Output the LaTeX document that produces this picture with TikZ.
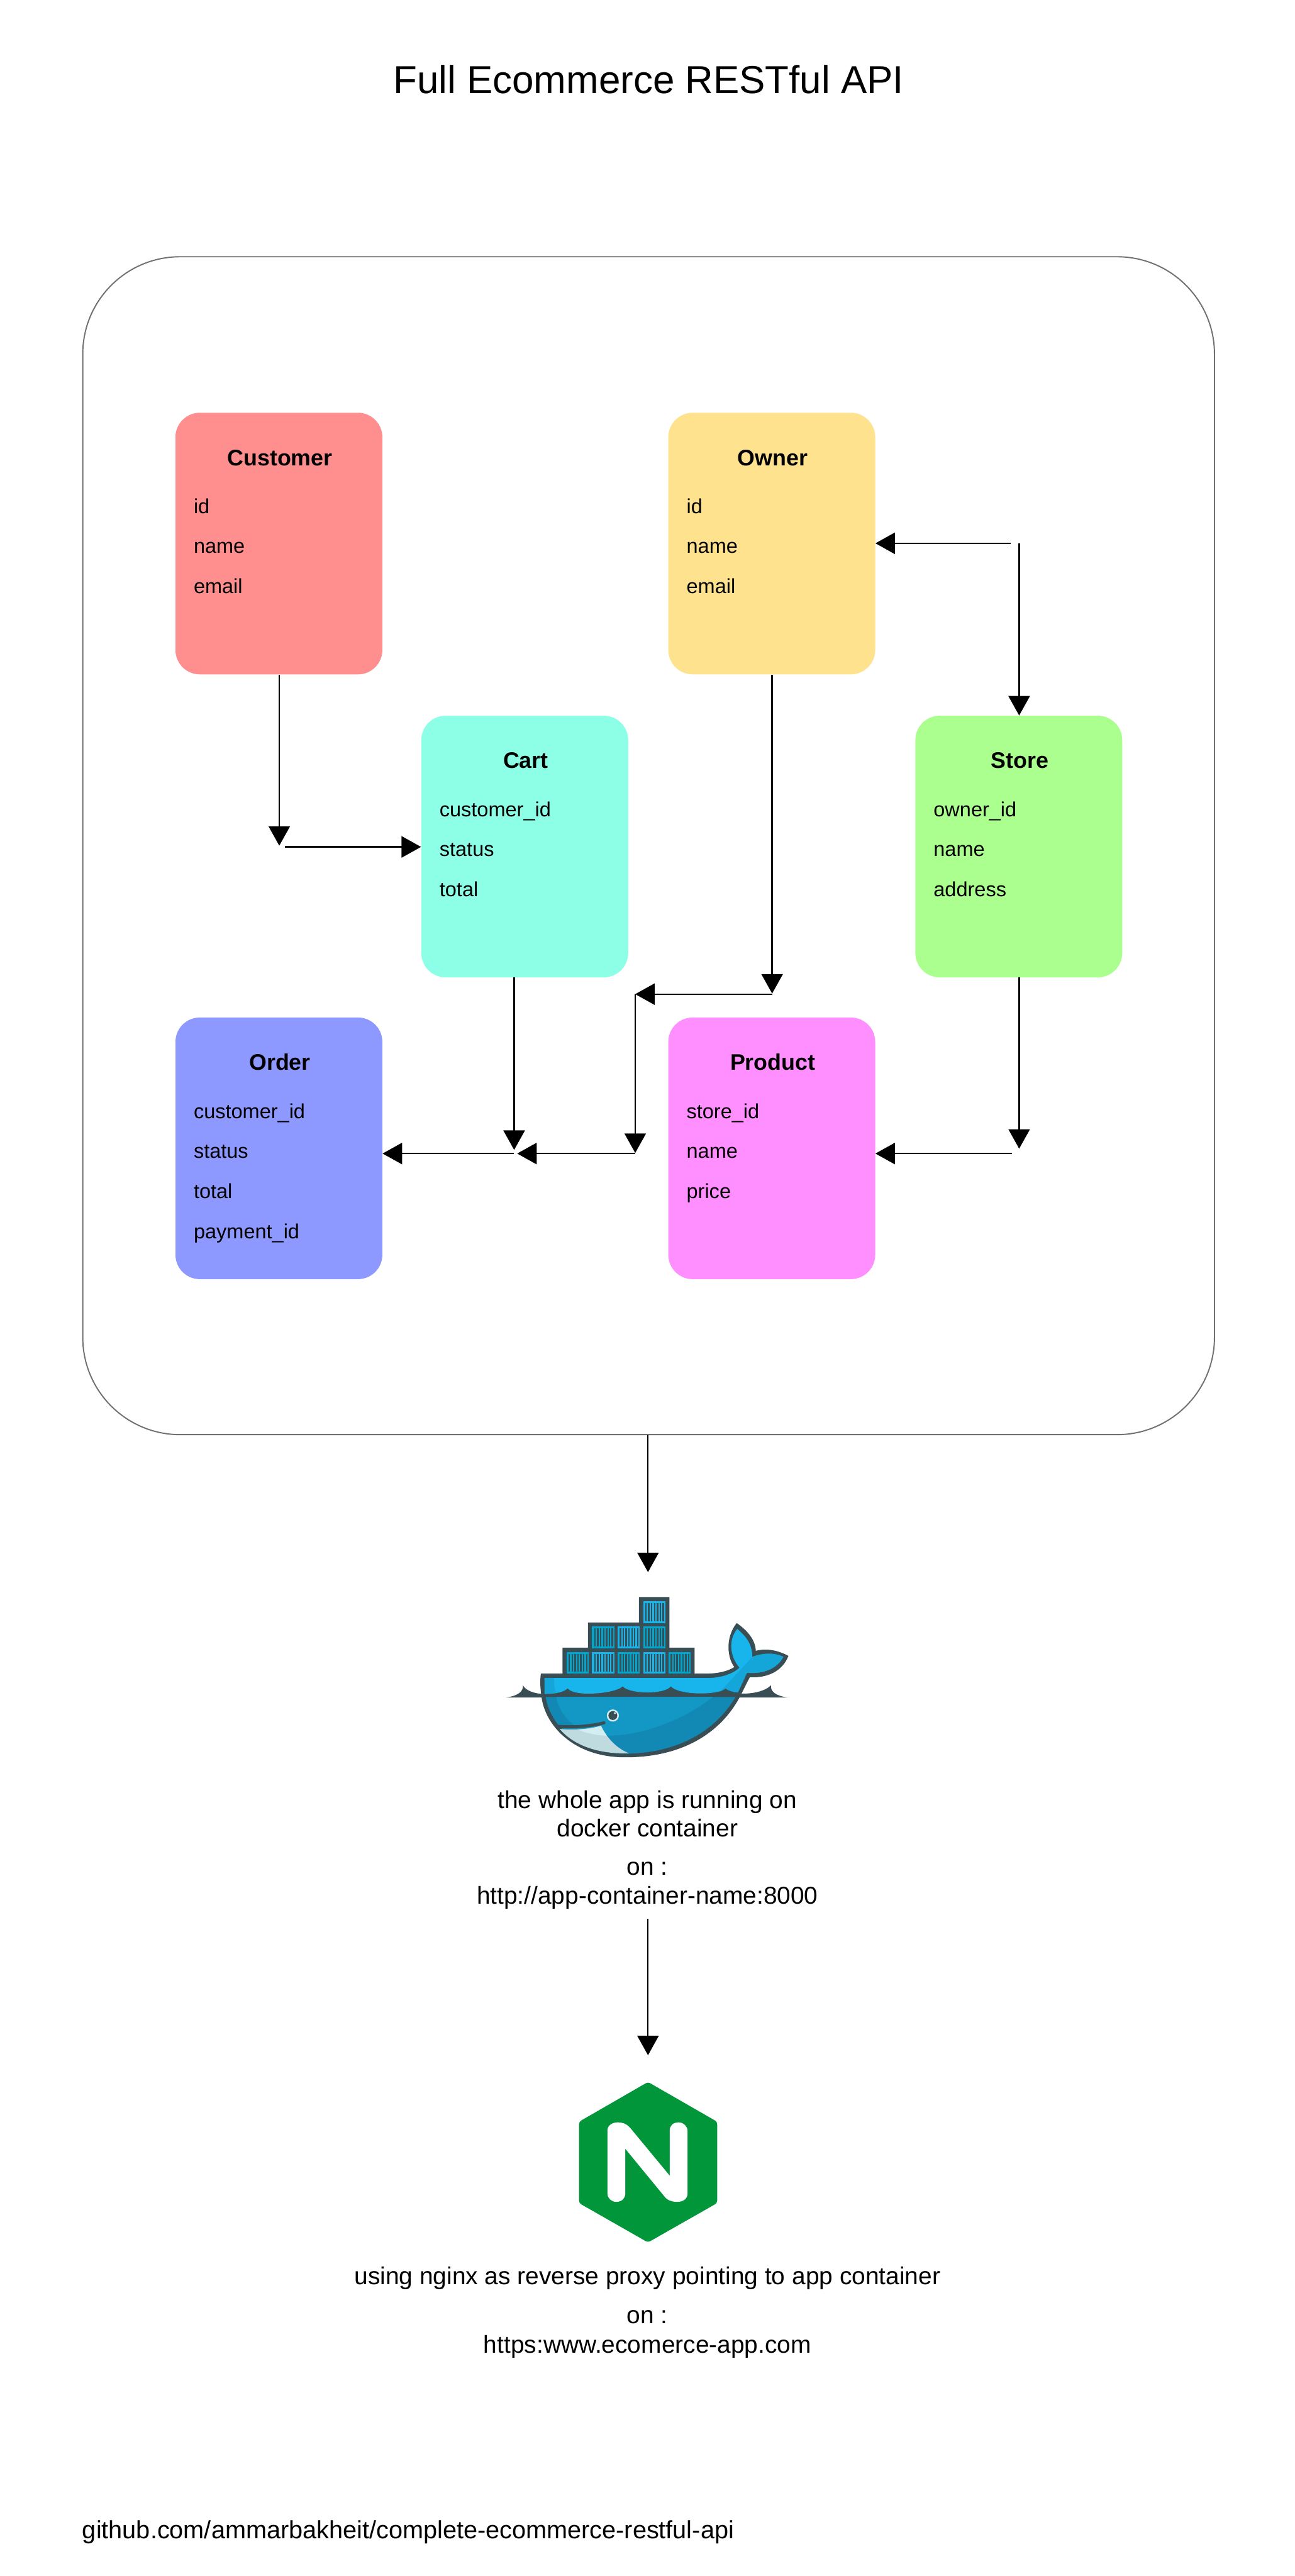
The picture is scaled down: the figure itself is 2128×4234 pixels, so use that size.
\documentclass[tikz,border=0pt]{standalone}
\usepackage{fontspec}
\setmainfont{Liberation Sans}
\usetikzlibrary{arrows.meta}
\definecolor{dkslate}{HTML}{394D54}
\definecolor{dkblue}{HTML}{00A6CE}
\definecolor{ltblue}{HTML}{17B5EB}
\definecolor{mdblue}{HTML}{1398C6}
\definecolor{shadeb}{HTML}{1289B5}
\definecolor{tailb}{HTML}{15A6D9}
\definecolor{bellyl}{HTML}{BFDBE0}
\definecolor{bellyh}{HTML}{D4EDF1}
\definecolor{nginxg}{HTML}{009639}
\definecolor{cCustomer}{HTML}{FF8E8E}
\definecolor{cOwner}{HTML}{FFE28E}
\definecolor{cCart}{HTML}{8EFFE7}
\definecolor{cStore}{HTML}{AAFF8E}
\definecolor{cOrder}{HTML}{8E99FF}
\definecolor{cProduct}{HTML}{FF8EFF}
\definecolor{framegray}{HTML}{707070}
\tikzset{
 x=0.5pt,y=-0.5pt,
 card/.style={rounded corners=20pt,minimum width=170pt,minimum height=215pt,inner sep=0pt,anchor=north west},
 ctitle/.style={font=\fontsize{18.5pt}{22pt}\selectfont\bfseries,anchor=base,inner sep=0pt},
 field/.style={font=\fontsize{16.8pt}{20pt}\selectfont,anchor=base west,inner sep=0pt},
 txt/.style={font=\fontsize{20.1pt}{24pt}\selectfont,anchor=base,inner sep=0pt},
 conn/.style={line width=1.2pt,-{Triangle[length=16pt,width=17.5pt]}},
}
% name, x, y, colour, title, field1..field3 (a fourth is added by hand)
\newcommand{\cardbox}[8]{%
 \node[card,fill=#4] (#1) at (#2,#3) {};
 \node[ctitle] (#1-title) at (#2+172,#3+87) {#5};
 \node[field] (#1-a) at (#2+30,#3+166) {#6};
 \node[field] (#1-b) at (#2+30,#3+231.5) {#7};
 \node[field] (#1-c) at (#2+30,#3+297.5) {#8};
}
% x, y (zoom coordinates), colour
\newcommand{\shipbox}[3]{%
 \fill[#3] (#1,#2) rectangle ++(96,108);
 \foreach \k in {0,...,6}{\fill[dkslate] (#1+9+\k*12.4,#2+10) rectangle ++(6.5,88);}
}
\begin{document}
\begin{tikzpicture}
\useasboundingbox (0,0) rectangle (2128,4234);
\fill[white] (0,0) rectangle (2128,4234);
\node[font=\fontsize{32pt}{36pt}\selectfont,anchor=base,inner sep=0pt] (title) at (1066,154) {Full Ecommerce RESTful API};
\node[draw=framegray,line width=1pt,rounded corners=80pt,minimum width=930pt,minimum height=968pt,inner sep=0pt,anchor=north west] (frame) at (135,421) {};
% cards
\cardbox{customer}{288}{678}{cCustomer}{Customer}{id}{name}{email}
\cardbox{owner}{1098}{678}{cOwner}{Owner}{id}{name}{email}
\cardbox{cart}{692}{1176}{cCart}{Cart}{customer\_id}{status}{total}
\cardbox{store}{1504}{1176}{cStore}{Store}{owner\_id}{name}{address}
\cardbox{order}{288}{1672}{cOrder}{Order}{customer\_id}{status}{total}
\node[field] (order-d) at (318,2036) {payment\_id};
\cardbox{product}{1098}{1672}{cProduct}{Product}{store\_id}{name}{price}
% connector ends
\coordinate (custdrop) at (459,1390);
\coordinate (custturn) at (468,1392);
\coordinate (ownerturn) at (1661,893);
\coordinate (ownerdrop) at (1269,1633);
\coordinate (ownerleft) at (1044,1634);
\coordinate (midturn) at (1044,1895);
\coordinate (midtip) at (850,1896);
\coordinate (cartdrop) at (845,1890);
\coordinate (orderturn) at (845,1896);
\coordinate (storedrop) at (1675,1888);
\coordinate (storeturn) at (1663,1896);
\coordinate (owneraxis) at (1675,893);
% connectors
\draw[conn] (customer.south -| custdrop) -- (custdrop);
\draw[conn] (custturn) -- (cart.west |- custturn);
\draw[conn] (ownerturn) -- (owner.east |- ownerturn);
\draw[conn] (owneraxis) -- (store.north -| owneraxis);
\draw[conn] (owner.south -| ownerdrop) -- (ownerdrop);
\draw[conn] (ownerdrop |- ownerleft) -- (ownerleft);
\draw[conn] (ownerleft) -- (midturn);
\draw[conn] (midturn |- midtip) -- (midtip);
\draw[conn] (cart.south -| cartdrop) -- (cartdrop);
\draw[conn] (orderturn) -- (order.east |- orderturn);
\draw[conn] (store.south -| storedrop) -- (storedrop);
\draw[conn] (storeturn) -- (product.east |- storeturn);
\coordinate (dockertip) at (1065,2584);
\draw[conn] (frame.south -| dockertip) -- (dockertip);
\coordinate (nginxfrom) at (1065,3154);
\coordinate (nginxtip) at (1065,3378);
\draw[conn] (nginxfrom) -- (nginxtip);
% docker whale, in the coordinates of a crop
\begin{scope}[xshift=380pt,yshift=-1280pt,x=0.19135pt,y=-0.16667pt]
 \fill[dkslate] (187,690) .. controls (240,682) and (262,660) .. (260,630) .. controls (270,655) and (310,672) .. (345,672) -- (345,690) -- cycle;
 \fill[dkslate] (1397,690) .. controls (1345,682) and (1322,660) .. (1325,630) .. controls (1300,660) and (1240,675) .. (1185,670) -- (1185,690) -- cycle;
 \fill[dkslate] (430,444) -- (539,444) -- (539,320) -- (758,320) -- (758,195) -- (889,195) -- (889,444) -- (997,444) -- (997,580) -- (430,580) -- cycle;
 \fill[dkslate] (337,572) -- (1050,572) .. controls (1100,572) and (1140,560) .. (1168,540) .. controls (1140,500) and (1125,400) .. (1178,323) .. controls (1230,365) and (1258,410) .. (1260,460) .. controls (1310,445) and (1360,460) .. (1400,485) .. controls (1375,560) and (1310,595) .. (1234,590) -- (1190,690) .. controls (1110,860) and (950,985) .. (700,985) .. controls (470,985) and (355,820) .. (340,690) .. controls (335,650) and (332,610) .. (337,572) -- cycle;
 \shipbox{447}{465}{dkblue}\shipbox{557}{465}{ltblue}\shipbox{666}{465}{dkblue}\shipbox{776}{465}{ltblue}\shipbox{885}{465}{dkblue}
 \shipbox{557}{340}{dkblue}\shipbox{666}{340}{ltblue}\shipbox{776}{340}{dkblue}
 \shipbox{776}{216}{ltblue}
 % lower body
 \fill[shadeb] (358,688) -- (1172,688) .. controls (1090,850) and (930,965) .. (700,967) .. controls (470,965) and (372,800) .. (358,688) -- cycle;
 \fill[mdblue] (403,688) -- (1075,688) .. controls (950,800) and (770,880) .. (620,878) .. controls (540,875) and (430,830) .. (403,688) -- cycle;
 % belly
 \fill[bellyl] (418,845) .. controls (480,852) and (545,845) .. (595,830) .. controls (625,900) and (670,945) .. (715,965) .. controls (590,970) and (480,930) .. (418,845) -- cycle;
 \fill[bellyh] (495,848) .. controls (530,848) and (565,840) .. (595,830) .. controls (603,850) and (612,865) .. (620,878) .. controls (575,878) and (530,865) .. (495,848) -- cycle;
 \draw[dkslate,line width=2.5pt,line cap=round] (405,832) .. controls (480,838) and (550,832) .. (608,815);
 % eye
 \fill[bellyh] (646,779) ellipse [x radius=26,y radius=30];
 \fill[dkslate] (646,779) ellipse [x radius=19,y radius=22];
 \fill[bellyh] (655,767) ellipse [x radius=5,y radius=5];
 % upper body and flukes
 \fill[ltblue] (353,594) -- (1050,594) .. controls (1110,594) and (1160,575) .. (1190,543) .. controls (1150,490) and (1140,410) .. (1180,352) .. controls (1220,390) and (1245,430) .. (1245,490) .. controls (1290,470) and (1340,468) .. (1378,490) .. controls (1350,550) and (1290,575) .. (1222,568) -- (1183,665) .. controls (1165,665) and (1140,655) .. (1130,645) .. controls (1100,680) and (930,680) .. (895,635) .. controls (870,675) and (720,675) .. (688,635) .. controls (660,670) and (480,690) .. (452,645) .. controls (430,670) and (380,672) .. (353,672) -- cycle;
 \fill[tailb] (1245,490) .. controls (1290,470) and (1340,468) .. (1378,490) .. controls (1350,550) and (1290,575) .. (1222,568) -- (1183,665) .. controls (1165,665) and (1140,655) .. (1130,645) -- (1108,660) -- cycle;
 \fill[tailb] (353,594) -- (393,594) .. controls (393,625) and (396,650) .. (402,668) .. controls (385,672) and (365,672) .. (353,672) -- cycle;
\end{scope}
\node[txt] (docker-a) at (1064,2972) {the whole app is running on};
\node[txt] (docker-b) at (1064,3019) {docker container};
\node[txt] (docker-c) at (1064,3082) {on :};
\node[txt] (docker-d) at (1064,3129) {http://app-container-name:8000};
% nginx logo, in the coordinates of a crop
\begin{scope}[xshift=440pt,yshift=-1680pt,x=0.16667pt,y=-0.16667pt]
 \fill[nginxg,rounded corners=2pt] (555,186) -- (896,382) -- (896,783) -- (555,977) -- (215,783) -- (215,382) -- cycle;
 \fill[white] (355,425) .. controls (355,400) and (380,385) .. (405,385) .. controls (430,385) and (450,393) .. (465,410) -- (662,648) -- (662,425) .. controls (662,400) and (680,385) .. (706,385) .. controls (730,385) and (750,405) .. (750,428) -- (750,735) .. controls (750,760) and (730,777) .. (700,777) .. controls (675,777) and (650,770) .. (636,750) -- (443,515) -- (443,735) .. controls (443,760) and (425,777) .. (399,777) .. controls (375,777) and (355,760) .. (355,735) -- cycle;
\end{scope}
\node[txt] (nginx-a) at (1064,3755) {using nginx as reverse proxy pointing to app container};
\node[txt] (nginx-b) at (1064,3819) {on :};
\node[txt] (nginx-c) at (1064,3867) {https:www.ecomerce-app.com};
\node[txt,font=\fontsize{20.5pt}{24pt}\selectfont,anchor=base west] (repo) at (135,4172) {github.com/ammarbakheit/complete-ecommerce-restful-api};
\end{tikzpicture}
\end{document}
